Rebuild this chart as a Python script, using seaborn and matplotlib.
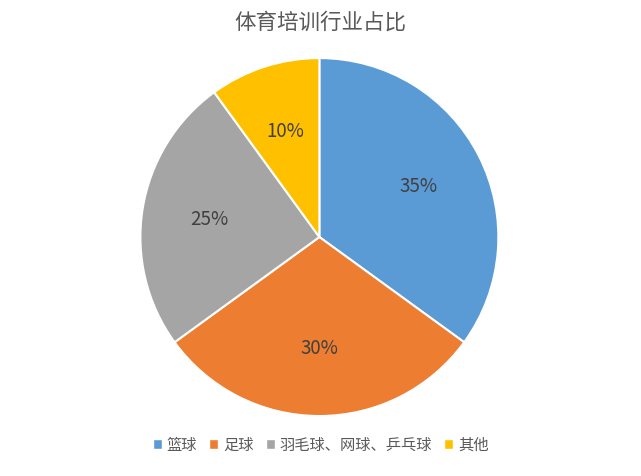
import matplotlib.pyplot as plt
import seaborn as sns
from matplotlib.patches import Patch

sns.set_theme(style="white", font="Noto Sans CJK SC")

categories = ["篮球", "足球", "羽毛球、网球、乒乓球", "其他"]
shares = [35, 30, 25, 10]
colors = sns.color_palette(["#5B9BD5", "#ED7D31", "#A5A5A5", "#FFC000"])

fig = plt.figure(figsize=(6.41, 4.76), dpi=100)
ax = fig.add_axes([0.219, 0.126, 0.5585, 0.752])

ax.pie(shares, colors=colors, startangle=90, counterclock=False,
       autopct="%d%%", pctdistance=0.62,
       wedgeprops=dict(edgecolor="white", linewidth=1.5),
       textprops=dict(fontsize=13.5, color="#404040"))
ax.set_xlim(-1.0, 1.0)
ax.set_ylim(-1.0, 1.0)
ax.set_aspect("equal")

fig.suptitle("体育培训行业占比", y=0.975, fontsize=15.5, color="#595959")

handles = [Patch(facecolor=c, label=l) for c, l in zip(colors, categories)]
fig.legend(handles=handles, loc="center", bbox_to_anchor=(0.5, 0.065), ncol=4,
           frameon=False, fontsize=11, handlelength=0.6, handleheight=0.6,
           handletextpad=0.3, columnspacing=0.8, labelcolor="#595959")

fig.savefig("out.png", dpi=100)
